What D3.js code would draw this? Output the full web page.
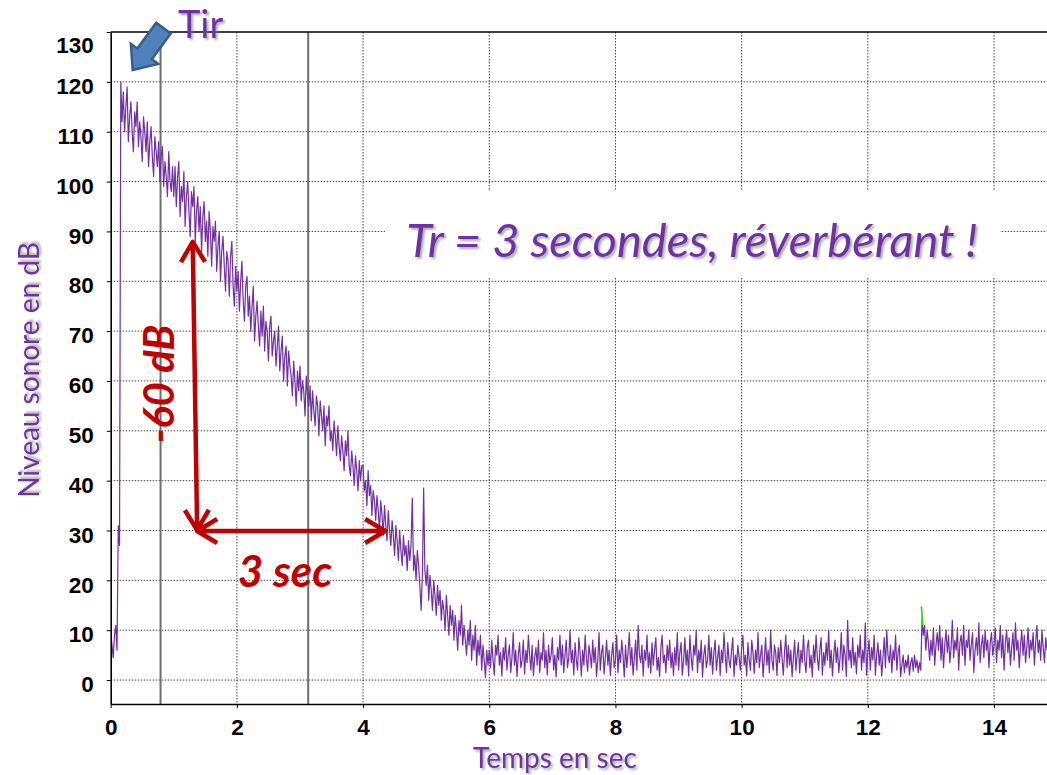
<!DOCTYPE html>
<html>
<head>
<meta charset="utf-8">
<script src="https://cdn.jsdelivr.net/npm/d3@7"></script>
<style>
  body { margin: 0; background: #fff; }
</style>
</head>
<body>
<div id="chart"></div>
<script>
// sound level (dB), one reading every sampleStep seconds
const sampleStep = 0.02;
const levels = [
  // 0 s
  10, 7, 4.5, 9, 11, 6, 31, 27, 120, 112, 118, 110, 115, 119, 108, 113, 116, 110, 106, 114, 111, 116, 107, 112, 109,
  104, 113, 110, 106, 112, 103, 108, 111, 105, 101, 109, 106, 103, 108, 100, 105, 107, 99, 104, 101, 97, 106, 100, 98, 103,
  // 1 s
  97, 103, 95, 101, 104, 93, 99, 96, 102, 91, 97, 100, 94, 89, 98, 95, 99, 88, 94, 97, 90, 95, 86, 93, 96,
  88, 92, 85, 94, 90, 83, 91, 88, 92, 82, 87, 90, 80, 86, 89, 83, 78, 86, 84, 77, 85, 88, 79, 75, 83,
  // 2 s
  78, 82, 74, 80, 84, 76, 72, 79, 81, 73, 77, 70, 75, 79, 68, 73, 76, 71, 67, 74, 69, 75, 66, 72, 70,
  64, 71, 73, 65, 68, 70, 63, 67, 71, 62, 66, 69, 60, 65, 67, 59, 66, 63, 61, 57, 64, 60, 55, 62, 58,
  // 3 s
  63, 56, 60, 58, 53, 61, 57, 55, 59, 52, 58, 54, 51, 57, 55, 49, 56, 53, 50, 55, 47, 53, 51, 55, 48,
  50, 46, 52, 49, 45, 51, 47, 44, 49, 46, 42, 48, 45, 50, 43, 41, 46, 43, 39, 45, 42, 38, 44, 40, 43,
  // 4 s
  43, 38, 40, 35, 42, 37, 39, 33, 38, 36, 32, 37, 34, 30, 36, 33, 29, 35, 31, 28, 34, 30, 27, 32, 29,
  25, 31, 28, 24, 30, 26, 23, 29, 25, 27, 22, 28, 24, 27, 36.5, 22, 25, 20, 26, 23, 19, 14, 21, 38.5, 22,
  // 5 s
  19, 23, 16, 21, 18, 14, 20, 17, 13, 19, 15, 18, 12, 16, 14, 10, 17, 13, 9, 15, 11, 14, 8, 13, 10,
  6, 12, 9, 15, 7, 11, 8, 5, 10, 7, 12, 4, 9, 6, 11, 3, 8, 5, 9, 2, 7, 4, 0.5, 6, 3,
  // 6 s
  6, 2.5, 8, 4, 1, 7, 5, 9, 3, 5.5, 0.8, 6.5, 4, 8.5, 2, 5, 7, 1.5, 4.5, 9.5, 3, 6, 0.7, 5, 7.5,
  2.5, 4, 8, 1.2, 6, 3.5, 9, 5, 2, 7, 0.9, 4.5, 6.5, 3, 8, 1.5, 5.5, 4, 9.5, 2.5, 6, 1, 7, 3.5, 5,
  // 7 s
  8.5, 2, 5, 0.6, 6.5, 4, 9, 3, 7, 1.5, 5, 8, 2.5, 4.5, 10, 3.5, 6, 1, 7.5, 4, 2, 8.5, 5.5, 0.8, 6,
  3, 9, 4.5, 1.8, 7, 5, 2.5, 8, 3.5, 6.5, 0.7, 4, 9.5, 2, 5.5, 7, 1.2, 4.5, 8, 3, 6, 0.9, 5, 7.5, 2.5,
  // 8 s
  4, 9, 1.5, 6, 3.5, 8, 5, 0.6, 7, 2.5, 5.5, 9.5, 3, 6.5, 1, 4.5, 8, 2, 11, 5, 3.5, 7, 0.8, 6, 4,
  9, 2.5, 5.5, 1.4, 7.5, 3, 6, 8.5, 2, 4.5, 0.7, 6.5, 9, 3.5, 5, 1.5, 7, 4, 8, 2.5, 5.5, 0.9, 6.5, 3, 9.5,
  // 9 s
  2, 5.5, 7.5, 1, 4, 8.5, 3, 6, 0.8, 9, 4.5, 2, 7, 5, 10, 1.5, 6, 3.5, 8, 0.6, 5, 7, 2.5, 4, 9,
  3, 6.5, 1.2, 5.5, 8, 2, 4.5, 7, 0.9, 6, 3.5, 9.5, 5, 1.5, 7.5, 4, 2.5, 6, 8.5, 0.7, 5, 3, 7, 4.5, 2,
  // 10 s
  6.5, 9, 3, 5, 0.8, 7.5, 4, 2, 8, 5.5, 1.3, 6, 3.5, 9.5, 2.5, 5, 7, 0.6, 4.5, 8.5, 3, 6, 1.5, 10, 4,
  2, 7, 5.5, 0.9, 6.5, 3.5, 8, 4.5, 1, 5.5, 9, 2.5, 7, 3, 6, 0.7, 4.5, 8, 2, 5, 7.5, 1.4, 6, 3.5, 9,
  // 11 s
  4, 1.5, 6.5, 8, 2.5, 5, 0.6, 7, 3.5, 9, 4.5, 2, 6, 8.5, 1, 5.5, 3, 7.5, 4, 10, 2.5, 6, 0.8, 5, 8,
  3.5, 6.5, 1.5, 4.5, 9.5, 2, 7, 5, 0.7, 12, 4, 6, 2.5, 8.5, 3, 5.5, 1.2, 7, 4.5, 9, 2, 6, 3.5, 11.5, 1,
  // 12 s
  5.5, 8, 2, 6.5, 4, 9, 1, 5, 7.5, 3, 6, 0.8, 4.5, 8.5, 2.5, 10, 5, 3.5, 7, 1.5, 6, 4, 9, 2, 5.5,
  7, 0.7, 3, 5, 1.5, 4, 2.5, 5, 1, 3.5, 4.5, 1.8, 5, 2.5, 4, 1.5, 3.5, 2, 12.5, 9, 11, 6, 10, 7.5, 4,
  // 13 s
  8, 5, 10.5, 3, 7, 9.5, 6, 11, 4, 8.5, 2.5, 7, 10, 5.5, 9, 3.5, 6.5, 12, 4.5, 8, 6, 10.5, 2, 7.5, 9,
  5, 11, 3, 8, 6.5, 10, 4, 7, 9.5, 1.5, 6, 8.5, 5, 11.5, 3.5, 7, 9, 4.5, 10, 6, 8, 2.5, 7.5, 9.5, 5,
  // 14 s
  7, 10.5, 3.5, 8, 6, 11, 4.5, 9, 2, 7.5, 10, 5.5, 8.5, 3, 6.5, 9.5, 4, 11.5, 6, 8, 2.5, 7, 10, 5, 9,
  3.5, 6.5, 10.5, 4.5, 8, 6, 9.5, 3, 7.5, 11, 5.5, 8, 4, 10, 6.5, 3.5, 8.5, 6
];

// short green trace at the second event
const greenTimes = [12.85, 12.87];
const greenLevels = [14.8, 11];

const yTicks = [0, 10, 20, 30, 40, 50, 60, 70, 80, 90, 100, 110, 120, 130];
const xTicks = [0, 2, 4, 6, 8, 10, 12, 14];
const cursorTimes = [0.79, 3.13];

// reading of the decay: 60 dB lost in 3 s
const dropArrow = { t: [1.30, 1.37], db: [87.9, 30.1] };
const spanArrow = { t: [1.37, 4.35], db: [29.9, 29.9] };

const width = 1047, height = 775;
const purple = '#7030A0', red = '#C00000';

const svg = d3.select('#chart').append('svg')
  .attr('width', width)
  .attr('height', height);

const defs = svg.append('defs');
const shadow = defs.append('filter').attr('id', 'shadow')
  .attr('x', '-10%').attr('y', '-10%').attr('width', '130%').attr('height', '140%');
shadow.append('feDropShadow')
  .attr('dx', 2).attr('dy', 2).attr('stdDeviation', 1.3)
  .attr('flood-color', '#777').attr('flood-opacity', 0.6);

const x = d3.scaleLinear().domain([0, 14.84]).range([110.7, 1047]);
const y = d3.scaleLinear().domain([-4.8, 130]).range([704, 32]);

defs.append('clipPath').attr('id', 'plot')
  .append('rect')
  .attr('x', x(0)).attr('y', y(130))
  .attr('width', x(14.84) - x(0)).attr('height', y(-4.8) - y(130));

// grid
const grid = svg.append('g');
grid.selectAll('.hgrid')
  .data(yTicks.filter(d => d < 130))
  .enter().append('line')
  .attr('class', 'hgrid')
  .attr('x1', x(0)).attr('x2', width)
  .attr('y1', d => y(d)).attr('y2', d => y(d))
  .attr('stroke', '#444')
  .attr('stroke-dasharray', '1.5,1.5');
grid.selectAll('.vgrid')
  .data(xTicks.filter(d => d > 0))
  .enter().append('line')
  .attr('class', 'vgrid')
  .attr('x1', d => x(d)).attr('x2', d => x(d))
  .attr('y1', y(130)).attr('y2', y(-4.8))
  .attr('stroke', '#444')
  .attr('stroke-dasharray', '1.5,1.5');

// white box behind the Tr text
svg.append('rect')
  .attr('x', 385).attr('y', 190)
  .attr('width', 615).attr('height', 87)
  .attr('fill', '#fff');

svg.selectAll('.cursor')
  .data(cursorTimes)
  .enter().append('line')
  .attr('class', 'cursor')
  .attr('x1', d => x(d)).attr('x2', d => x(d))
  .attr('y1', y(130)).attr('y2', y(-4.8))
  .attr('stroke', '#6e6e6e')
  .attr('stroke-width', 2);

const line = d3.line()
  .x((d, i) => x(i * sampleStep))
  .y(d => y(d));

svg.append('path')
  .datum(levels)
  .attr('clip-path', 'url(#plot)')
  .attr('d', line)
  .attr('fill', 'none')
  .attr('stroke', purple)
  .attr('stroke-width', 1.2)
  .attr('stroke-linejoin', 'round');

svg.append('path')
  .datum(greenTimes.map((t, i) => [t, greenLevels[i]]))
  .attr('d', d3.line().x(d => x(d[0])).y(d => y(d[1])))
  .attr('fill', 'none')
  .attr('stroke', '#22dd22')
  .attr('stroke-width', 1.6);

// axes
const yAxis = svg.append('g')
  .attr('transform', `translate(${x(0)},0)`)
  .call(d3.axisLeft(y).tickValues(yTicks).tickSize(4).tickSizeOuter(0).tickPadding(13));
yAxis.selectAll('text')
  .attr('dy', '0.52em')
  .attr('y', d => Math.max(y(d), 41) - y(d));

const xAxis = svg.append('g')
  .attr('transform', `translate(0,${y(-4.8)})`)
  .call(d3.axisBottom(x).tickValues(xTicks).tickFormat(d3.format('d')).tickSize(4).tickSizeOuter(0).tickPadding(11));

[yAxis, xAxis].forEach(a => {
  a.select('.domain').attr('stroke', '#000').attr('stroke-width', 1.6);
  a.selectAll('.tick line').attr('stroke', '#000');
  a.selectAll('text')
    .attr('fill', '#000')
    .style('font-family', '"Liberation Sans", Arial, sans-serif')
    .style('font-weight', 'bold')
    .style('font-size', '22.5px');
});

svg.append('line')
  .attr('x1', x(0)).attr('x2', width)
  .attr('y1', y(130)).attr('y2', y(130))
  .attr('stroke', '#000')
  .attr('stroke-width', 1.6);

// axis titles
svg.append('text')
  .attr('transform', 'translate(39,370) rotate(-90)')
  .attr('text-anchor', 'middle')
  .attr('fill', purple)
  .attr('filter', 'url(#shadow)')
  .style('font-family', 'Lato, sans-serif')
  .style('font-size', '28px')
  .text('Niveau sonore en dB');

svg.append('text')
  .attr('x', 555).attr('y', 768)
  .attr('text-anchor', 'middle')
  .attr('fill', purple)
  .attr('filter', 'url(#shadow)')
  .style('font-family', 'Lato, sans-serif')
  .style('font-size', '28px')
  .text('Temps en sec');

svg.append('text')
  .attr('x', 692).attr('y', 257)
  .attr('text-anchor', 'middle')
  .attr('fill', purple)
  .attr('filter', 'url(#shadow)')
  .style('font-family', 'Lato, sans-serif')
  .style('font-style', 'italic')
  .style('font-size', '47px')
  .text('Tr = 3 secondes, réverbérant !');

// red reading arrows
function chevron(tip, from) {
  const a = Math.atan2(tip[1] - from[1], tip[0] - from[0]);
  const len = 20, half = 12;
  const bx = tip[0] - len * Math.cos(a), by = tip[1] - len * Math.sin(a);
  const nx = -Math.sin(a) * half, ny = Math.cos(a) * half;
  return `M${bx + nx},${by + ny}L${tip[0]},${tip[1]}L${bx - nx},${by - ny}`;
}
[dropArrow, spanArrow].forEach(ar => {
  const p0 = [x(ar.t[0]), y(ar.db[0])], p1 = [x(ar.t[1]), y(ar.db[1])];
  svg.append('path')
    .attr('d', `M${p0[0]},${p0[1]}L${p1[0]},${p1[1]}` + chevron(p0, p1) + chevron(p1, p0))
    .attr('fill', 'none')
    .attr('stroke', red)
    .attr('stroke-width', 4.5)
    .attr('stroke-linejoin', 'round');
});

svg.append('text')
  .attr('transform', 'translate(174,384) rotate(-90)')
  .attr('text-anchor', 'middle')
  .attr('fill', red)
  .style('font-family', 'Lato, sans-serif')
  .style('font-style', 'italic')
  .style('font-weight', 'bold')
  .style('font-size', '42px')
  .text('-60 dB');

svg.append('text')
  .attr('x', 285).attr('y', 587)
  .attr('text-anchor', 'middle')
  .attr('fill', red)
  .style('font-family', 'Lato, sans-serif')
  .style('font-style', 'italic')
  .style('font-weight', 'bold')
  .style('font-size', '44px')
  .text('3 sec');

// "Tir" marker: blue block arrow pointing at the shot
svg.append('polygon')
  .attr('points', '0,0 -20,-17 -20,-9 -52,-9 -52,9 -20,9 -20,17')
  .attr('transform', 'translate(132.7,70) rotate(126.3)')
  .attr('fill', '#4F81BD')
  .attr('stroke', '#385D8A')
  .attr('stroke-width', 2.5)
  .attr('stroke-linejoin', 'miter');

svg.append('text')
  .attr('x', 178).attr('y', 38)
  .attr('fill', purple)
  .attr('filter', 'url(#shadow)')
  .style('font-family', 'Lato, sans-serif')
  .style('font-size', '38px')
  .text('Tir');
</script>
</body>
</html>
